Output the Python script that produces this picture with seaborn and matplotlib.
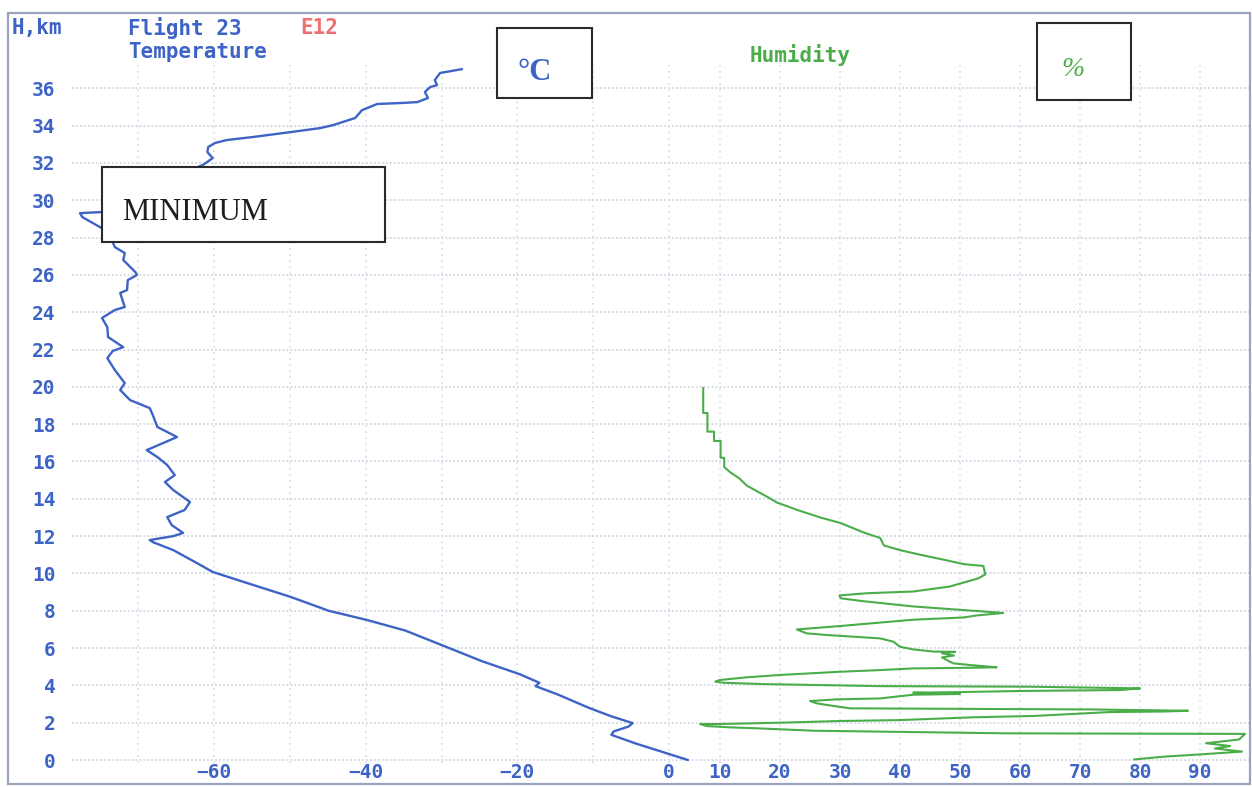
import seaborn as sns
import pandas as pd
from matplotlib import pyplot as plt
import matplotlib.patches as mpatches

# temperature profile (km, deg C)
temp_height_km = [37.03, 36.82, 36.44, 36.17, 36.07, 35.80, 35.48, 35.26, 35.21, 35.16,
                  34.83, 34.41, 34.03, 33.87, 33.65, 33.39, 33.23, 33.07, 32.85, 32.58,
                  32.26, 31.89, 31.5, 30.8, 30.1, 29.37, 29.31, 29.1, 28.5, 27.76,
                  27.49, 27.17, 26.8, 26.15, 25.99, 25.72, 25.19, 25.03, 24.28, 24.12,
                  23.69, 23.2, 22.67, 22.13, 21.92, 21.54, 20.9, 20.2, 19.83, 19.29,
                  18.86, 18.49, 17.85, 17.31, 16.61, 16.24, 15.81, 15.27, 14.9, 14.47,
                  13.83, 13.4, 13.02, 12.59, 12.17, 12.0, 11.79, 11.68, 11.25, 10.56,
                  10.08, 9.4, 8.74, 8.0, 7.5, 6.94, 6.13, 5.3, 4.6, 4.14,
                  3.96, 3.5, 2.8, 2.34, 1.98, 1.8, 1.53, 1.35, 0.9, 0.0]
temp_celsius = [-27.3, -30.2, -30.9, -30.6, -31.5, -32.2, -31.8, -33.2, -35.5, -38.5,
                -40.5, -41.4, -44.3, -46.0, -50.0, -54.9, -58.3, -59.9, -60.8, -60.9,
                -60.2, -61.5, -63.9, -67.2, -71.1, -74.8, -77.7, -77.4, -74.8, -73.4,
                -73.1, -71.8, -72.0, -70.4, -70.2, -71.4, -71.5, -72.4, -71.8, -73.1,
                -74.8, -74.1, -74.0, -72.0, -73.4, -74.1, -73.1, -71.8, -72.4, -71.1,
                -68.5, -68.1, -67.5, -64.9, -68.9, -67.5, -66.2, -65.2, -66.5, -65.4,
                -63.2, -63.9, -66.2, -65.6, -64.1, -65.4, -68.5, -68.1, -65.4, -62.3,
                -60.2, -55.0, -49.9, -44.9, -39.8, -34.8, -29.8, -24.7, -19.7, -17.1,
                -17.6, -14.6, -10.6, -7.6, -4.8, -5.3, -7.3, -7.6, -4.5, 2.5]

# humidity profile (km, %)
hum_height_km = [19.95, 18.6, 18.6, 17.6, 17.6, 17.1, 17.1, 16.2, 16.2, 15.7,
                 15.4, 15.1, 14.7, 14.4, 14.1, 13.8, 13.4, 13.0, 12.7, 12.2,
                 11.9, 11.5, 11.25, 11.0, 10.7, 10.5, 10.4, 9.95, 9.74, 9.3,
                 9.03, 8.94, 8.82, 8.67, 8.53, 8.23, 8.0, 7.88, 7.75, 7.64,
                 7.52, 7.18, 7.0, 6.79, 6.70, 6.61, 6.52, 6.34, 6.07, 5.93,
                 5.81, 5.8, 5.72, 5.6, 5.5, 5.27, 5.18, 5.09, 4.97, 4.95,
                 4.91, 4.82, 4.73, 4.56, 4.43, 4.29, 4.2, 4.14, 4.07, 3.96,
                 3.93, 3.84, 3.75, 3.70, 3.64, 3.61, 3.54, 3.50, 3.30, 3.25,
                 3.16, 3.04, 2.95, 2.77, 2.71, 2.64, 2.60, 2.57, 2.36, 2.29,
                 2.14, 2.09, 2.0, 1.93, 1.93, 1.82, 1.75, 1.70, 1.57, 1.43,
                 1.40, 1.1, 0.9, 0.75, 0.62, 0.45, 0.30, 0.18, 0.03]
hum_percent = [7.2, 7.2, 7.9, 7.9, 9.0, 9.0, 10.1, 10.1, 10.7, 10.7,
               11.8, 13.2, 14.5, 16.2, 17.9, 19.5, 22.9, 26.7, 30.1, 33.9,
               36.7, 37.3, 40.0, 43.4, 47.8, 50.6, 53.9, 54.2, 53.1, 48.3,
               42.2, 34.5, 29.9, 30.1, 33.4, 42.2, 52.2, 57.2, 52.8, 50.6,
               42.2, 30.0, 22.8, 24.4, 27.8, 32.2, 36.7, 38.9, 40.0, 42.2,
               45.6, 49.2, 47.0, 49.0, 47.0, 48.3, 48.9, 51.7, 56.1, 53.3,
               42.2, 36.7, 30.0, 20.0, 14.4, 10.0, 9.2, 10.6, 17.2, 36.7,
               61.7, 80.0, 76.7, 60.0, 50.0, 42.2, 50.0, 42.2, 36.7, 29.4,
               25.0, 26.1, 27.8, 31.7, 72.2, 88.0, 83.9, 75.0, 62.2, 52.2,
               40.0, 30.0, 20.0, 10.0, 6.7, 7.8, 11.7, 16.1, 25.6, 57.8,
               97.5, 96.5, 91.0, 95.0, 92.5, 97.0, 90.0, 84.0, 79.0]

height_ticks = list(range(0, 37, 2))
temp_ticks = [-60, -40, -20, 0]
temp_minor_ticks = [-70, -50, -30, -10]
hum_ticks = [10, 20, 30, 40, 50, 60, 70, 80, 90]

BLUE = '#3d63c6'
GREEN = '#4aad4a'
GRID = '#d0d6e4'
W, H = 1252, 787


def px(x, y):
    # figure fraction from pixel position (origin top-left)
    return x / W, 1 - y / H


sns.set_style('white')
plt.rcParams['font.family'] = ['DejaVu Sans Mono', 'DejaVu Sans']

temp_df = pd.DataFrame({'T': temp_celsius, 'H': temp_height_km})
hum_df = pd.DataFrame({'RH': hum_percent, 'H': hum_height_km})

fig = plt.figure(figsize=(W / 100, H / 100), dpi=100)
ax = fig.add_axes([72 / W, 1 - 763 / H, (1250 - 72) / W, (763 - 65) / H])
ax2 = ax.twiny()

sns.lineplot(data=temp_df, x='T', y='H', sort=False, estimator=None,
             color=BLUE, lw=1.7, ax=ax)
sns.lineplot(data=hum_df, x='RH', y='H', sort=False, estimator=None,
             color=GREEN, lw=1.5, ax=ax2)

ax.set_xlim(-78.76, 76.65)
ax.set_ylim(-0.16, 37.25)
ax2.set_xlim(-98.0, 98.33)

ax.set_yticks(height_ticks)
ax.set_xticks(temp_ticks)
ax.set_xticks(temp_minor_ticks, minor=True)
ax2.set_xticks(hum_ticks)
ax2.xaxis.set_ticks_position('bottom')
ax2.xaxis.set_label_position('bottom')

for a in (ax, ax2):
    a.set_xlabel('')
    a.set_ylabel('')
    for s in a.spines.values():
        s.set_visible(False)
    a.tick_params(which='both', length=0, labelcolor=BLUE, labelsize=14)
    for lab in a.get_xticklabels() + a.get_yticklabels():
        lab.set_fontweight('bold')

ax.tick_params(axis='x', pad=0)
ax2.tick_params(axis='x', pad=0)
ax.tick_params(axis='y', pad=12)

ax.grid(axis='y', color=GRID, lw=1.3, ls=(0, (1, 1.2)))
ax.grid(axis='x', which='both', color=GRID, lw=1.1, ls=(0, (1, 3)))
ax2.grid(axis='x', color=GRID, lw=1.1, ls=(0, (1, 3)))
ax2.grid(axis='y', visible=False)

# outer frame
fig.add_artist(mpatches.Rectangle(px(8, 784), (1250 - 8) / W, (784 - 13) / H,
                                  transform=fig.transFigure, fill=False,
                                  edgecolor='#9aa3bd', lw=1.6))

# header texts
fig.text(*px(12, 28), 'H,km', color=BLUE, fontsize=15, fontweight='bold', va='center')
fig.text(*px(128, 28), 'Flight 23', color=BLUE, fontsize=15, fontweight='bold', va='center')
fig.text(*px(300, 28), 'E12', color='#f07070', fontsize=15, fontweight='bold', va='center')
fig.text(*px(128, 52), 'Temperature', color=BLUE, fontsize=15, fontweight='bold', va='center')
fig.text(*px(750, 55), 'Humidity', color=GREEN, fontsize=15, fontweight='bold', va='center')

# unit boxes and the MINIMUM callout
boxes = [(497, 28, 592, 98), (1037, 23, 1131, 100), (102, 167, 385, 242)]
for x0, y0, x1, y1 in boxes:
    fig.add_artist(mpatches.Rectangle(px(x0, y1), (x1 - x0) / W, (y1 - y0) / H,
                                      transform=fig.transFigure, facecolor='white',
                                      edgecolor='#2a2a2a', lw=1.5, zorder=2))

fig.text(*px(535, 73), '°C', color=BLUE, fontsize=22, family='Liberation Serif',
         fontweight='bold', ha='center', va='center', zorder=3)
fig.text(*px(1073, 70), '%', color=GREEN, fontsize=20, family='Liberation Serif',
         style='italic', ha='center', va='center', zorder=3)
fig.text(*px(122, 212), 'MINIMUM', color='#1e1e1e', fontsize=22, family='Liberation Serif',
         ha='left', va='center', zorder=3)

fig.savefig('out.png', dpi=100)
